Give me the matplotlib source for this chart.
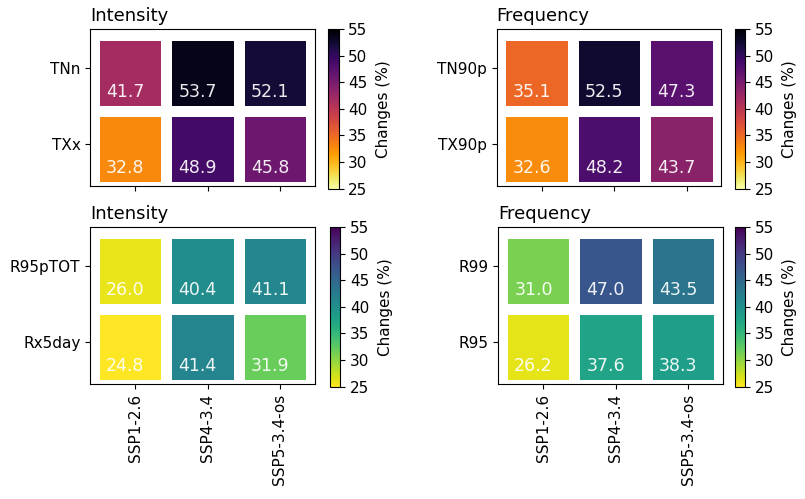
import matplotlib.pyplot as plt
import numpy as np

scenarios = ["SSP1-2.6", "SSP4-3.4", "SSP5-3.4-os"]

temp_int_rows = ["TNn", "TXx"]
temp_int_vals = [[41.7, 53.7, 52.1],
                 [32.8, 48.9, 45.8]]

temp_freq_rows = ["TN90p", "TX90p"]
temp_freq_vals = [[35.1, 52.5, 47.3],
                  [32.6, 48.2, 43.7]]

prec_int_rows = ["R95pTOT", "Rx5day"]
prec_int_vals = [[26.0, 40.4, 41.1],
                 [24.8, 41.4, 31.9]]

prec_freq_rows = ["R99", "R95"]
prec_freq_vals = [[31.0, 47.0, 43.5],
                  [26.2, 37.6, 38.3]]

panels = [
    ("Intensity", temp_int_rows, temp_int_vals, "inferno_r", False),
    ("Frequency", temp_freq_rows, temp_freq_vals, "inferno_r", False),
    ("Intensity", prec_int_rows, prec_int_vals, "viridis_r", True),
    ("Frequency", prec_freq_rows, prec_freq_vals, "viridis_r", True),
]

fig = plt.figure(figsize=(8.05, 4.99), dpi=100)

ax_pos = [(0.112, 0.627), (0.617, 0.627), (0.112, 0.230), (0.619, 0.230)]
cb_pos = [0.408, 0.913, 0.410, 0.913]

for i, (title, rows, vals, cmap, bottom) in enumerate(panels):
    left, bot = ax_pos[i]
    ax = fig.add_axes([left, bot, 0.279, 0.315])
    data = np.array(vals)
    xe = np.arange(len(scenarios) + 1) - 0.57
    ye = np.arange(len(rows) + 1) - 0.43
    mesh = ax.pcolormesh(xe, ye, data, cmap=cmap, vmin=25, vmax=55,
                         edgecolors="white", linewidth=6.5)
    for r in range(data.shape[0]):
        for c in range(data.shape[1]):
            ax.text(c - 0.40, r + 0.32, f"{data[r, c]:.1f}", color="white",
                    ha="left", va="center", fontsize=12.5, alpha=0.92)
    ax.set_xlim(-0.62, 2.48)
    ax.set_ylim(1.56, -0.51)
    ax.set_xticks(range(len(scenarios)))
    ax.set_yticks(range(len(rows)))
    ax.set_yticklabels(rows, fontsize=11)
    if bottom:
        ax.set_xticklabels(scenarios, rotation=90, fontsize=11)
    else:
        ax.set_xticklabels([])
    ax.set_title(title, loc="left", fontsize=13, pad=6)

    cax = fig.add_axes([cb_pos[i], bot - 0.005, 0.0125, 0.32])
    cb = fig.colorbar(mesh, cax=cax, ticks=[25, 30, 35, 40, 45, 50, 55])
    cb.ax.tick_params(labelsize=11)
    cb.set_label("Changes (%)", fontsize=11, labelpad=6)

fig.savefig("out.png", dpi=100)
